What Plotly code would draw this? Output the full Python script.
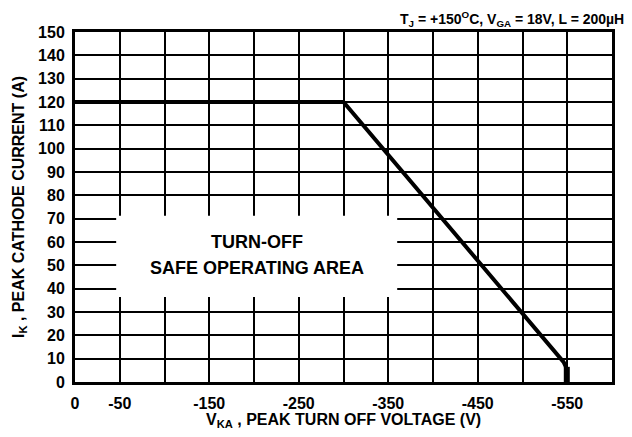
import plotly.graph_objects as go

# Data
soa_v = [0, -300, -546, -549]
soa_i = [120, 120, 8.5, 6]
stub_v = [-549.5, -549.5]
stub_i = [6.5, 0]

x_grid = [0, -50, -100, -150, -200, -250, -300, -350, -400, -450, -500, -550, -600]
x_labels = ["0", "-50", "", "-150", "", "-250", "", "-350", "", "-450", "", "-550", ""]
y_grid = [0, 10, 20, 30, 40, 50, 60, 70, 80, 90, 100, 110, 120, 130, 140, 150]
y_labels = [str(v) for v in y_grid]

box_v = [-46, -360]
box_i = [36.4, 71.2]
box_lines = ["TURN-OFF", "SAFE OPERATING AREA"]
box_text_v = [-203, -203]
box_text_i = [60, 48.9]

title_text = "T<sub>J</sub> = +150<sup>O</sup>C, V<sub>GA</sub> = 18V, L = 200µH"
xtitle = "V<sub>KA</sub> , PEAK TURN OFF VOLTAGE (V)"
ytitle = "I<sub>K</sub> , PEAK CATHODE CURRENT (A)"

FONT = "Liberation Sans, Arial, sans-serif"

fig = go.Figure()
fig.add_trace(go.Scatter(x=soa_v, y=soa_i, mode="lines",
                         line=dict(color="black", width=4), showlegend=False,
                         hoverinfo="skip"))
fig.add_trace(go.Scatter(x=stub_v, y=stub_i, mode="lines",
                         line=dict(color="black", width=6), showlegend=False,
                         hoverinfo="skip"))

fig.add_shape(type="rect", xref="x", yref="y",
              x0=box_v[0], x1=box_v[1], y0=box_i[0], y1=box_i[1],
              fillcolor="white", line=dict(width=0), layer="above")
for txt, xv, yv in zip(box_lines, box_text_v, box_text_i):
    fig.add_annotation(x=xv, y=yv, xref="x", yref="y",
                       text=txt, showarrow=False,
                       font=dict(family=FONT, size=18, color="black", weight="bold"),
                       align="center")
fig.add_annotation(x=1, xref="paper", xanchor="right", xshift=14,
                   y=1, yref="paper", yanchor="middle", yshift=13,
                   text=title_text, showarrow=False,
                   font=dict(family=FONT, size=14, color="black", weight="bold"))
fig.add_annotation(x=0.5, xref="paper", xanchor="center",
                   y=0, yref="paper", yanchor="middle", yshift=-38,
                   text=xtitle, showarrow=False,
                   font=dict(family=FONT, size=16, color="black", weight="bold"))

fig.update_layout(
    width=616, height=421,
    margin=dict(l=67, r=12, t=24, b=47, autoexpand=False),
    paper_bgcolor="white", plot_bgcolor="white",
    font=dict(family=FONT, color="black", weight="bold"),
)
fig.update_xaxes(range=[0, -600], tickmode="array", tickvals=x_grid, ticktext=x_labels,
                 showgrid=True, gridcolor="black", gridwidth=2,
                 showline=True, linecolor="black", linewidth=3, mirror=True,
                 ticks="", zeroline=False, automargin=False, ticklabelstandoff=5,
                 tickfont=dict(family=FONT, size=16, color="black", weight="bold"))
fig.update_yaxes(range=[0, 150], tickmode="array", tickvals=y_grid, ticktext=y_labels,
                 showgrid=True, gridcolor="black", gridwidth=2,
                 showline=True, linecolor="black", linewidth=3, mirror=True,
                 ticks="", zeroline=False, automargin=False, ticklabelstandoff=4,
                 tickfont=dict(family=FONT, size=16, color="black", weight="bold"),
                 title=dict(text=ytitle, standoff=10,
                            font=dict(family=FONT, size=16, color="black", weight="bold")))

fig.write_html("out.html")
